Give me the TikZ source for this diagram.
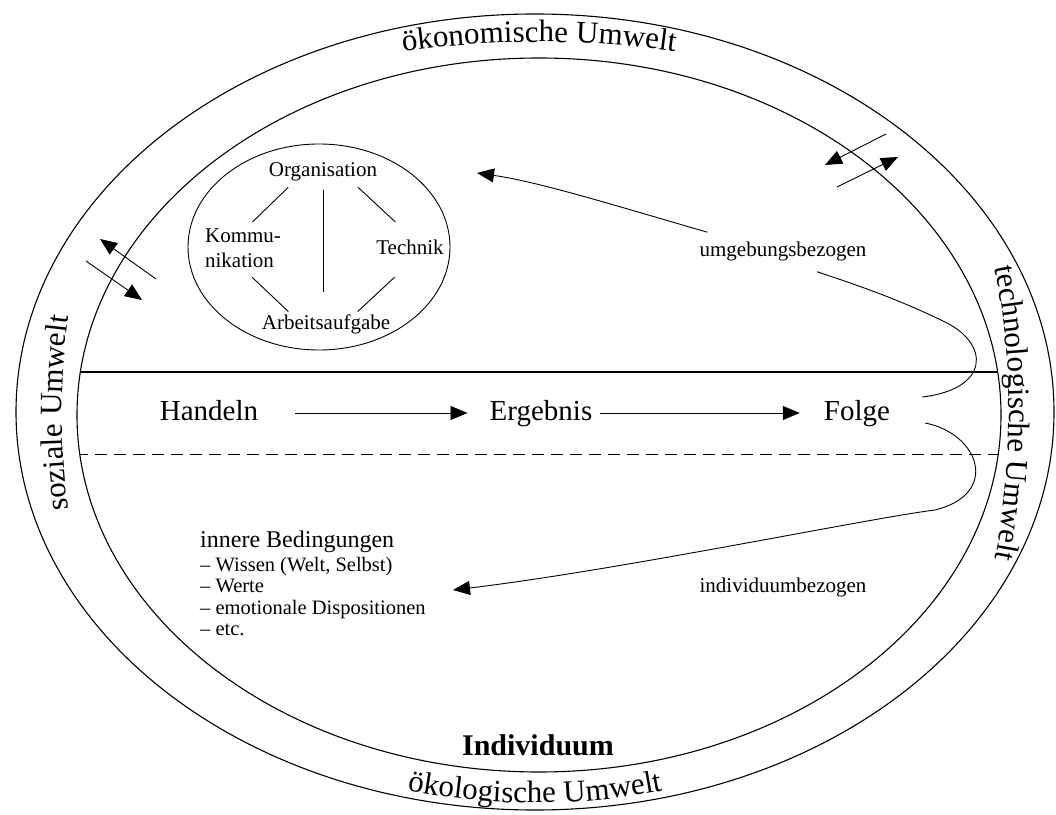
\documentclass[tikz,border=0pt]{standalone}
\usepackage{fontspec}
\setmainfont{Liberation Serif}
\usetikzlibrary{arrows.meta, decorations.text}

\newcommand{\ringfont}{\fontsize{31}{31}\selectfont}

\begin{document}
\begin{tikzpicture}[x=1pt, y=1pt,
    lbl/.style={font=\fontsize{21}{25}\selectfont, inner sep=0pt},
    rowlbl/.style={font=\fontsize{29}{34}\selectfont, inner sep=0pt, text height=21pt, text depth=5pt},
    arr/.style={-{Triangle[length=17pt, width=14pt]}, line width=0.9pt},
    link/.style={line width=0.9pt},
    ring/.style={decorate, decoration={text along path, text align=center, text={|\ringfont|#1}}}]
    \useasboundingbox (0,0) rectangle (1056,814);

    % outer and inner ellipse
    \draw[line width=1.1pt] (535,402) ellipse [x radius=519, y radius=398];
    \draw[line width=1.1pt] (539,399) ellipse [x radius=462, y radius=357];

    % the four environments
    \path[ring={ökonomische Umwelt}] ([shift={(539,401)}]120:600 and 371) arc[start angle=120, end angle=60, x radius=600, y radius=371];
    \path[ring={soziale Umwelt}] ([shift={(539,401)}]200:477 and 600) arc[start angle=200, end angle=160, x radius=477, y radius=600];
    \path[ring={technologische Umwelt}] ([shift={(539,401)}]25:470 and 600) arc[start angle=25, end angle=-25, x radius=470, y radius=600];
    \path[ring={ökologische Umwelt}] ([shift={(535,402)}]250:510 and 391) arc[start angle=250, end angle=290, x radius=510, y radius=391];

    % exchange with the environment
    \draw[arr] (886,680) -- (825,649);
    \draw[arr] (837,627) -- (898,657);
    \draw[arr] (156,535) -- (100,575);
    \draw[arr] (86,553) -- (142,514);

    % solid and dashed divider
    \begin{scope}
        \clip (539,399) ellipse [x radius=462, y radius=357];
        \draw[line width=2pt] (0,442) -- (1056,442);
        \draw[line width=0.9pt, dash pattern=on 12pt off 7pt] (0,360) -- (1056,360);
    \end{scope}

    % work system
    \draw[line width=0.9pt] (319,567) ellipse [x radius=131, y radius=103];
    \node[lbl, anchor=base] (org) at (323,637) {Organisation};
    \node[lbl, align=left] (komm) at (243,566) {Kommu-\\nikation};
    \node[lbl, anchor=base] (tech) at (410,559) {Technik};
    \node[lbl, anchor=base] (arb) at (326,484) {Arbeitsaufgabe};
    \draw[link, shorten <=8pt, shorten >=9pt] ([xshift=-29pt]org.south) -- ([xshift=3pt]komm.north);
    \draw[link, shorten <=8pt, shorten >=27pt] ([xshift=29pt]org.south) -- ([xshift=5pt]tech.north);
    \draw[link, shorten <=8pt, shorten >=23pt] (org.south) -- ([xshift=-3pt]arb.north);
    \draw[link, shorten <=14pt, shorten >=5pt] ([xshift=-1pt]komm.south) -- ([xshift=-34pt]arb.north);
    \draw[link, shorten <=32pt, shorten >=5pt] ([xshift=8pt]tech.south) -- ([xshift=28pt]arb.north);

    % action chain
    \node[rowlbl, anchor=base] (handeln) at (209,393) {Handeln};
    \node[rowlbl, anchor=base] (ergebnis) at (541,393) {Ergebnis};
    \node[rowlbl, anchor=base] (folge) at (857,393) {Folge};
    \draw[arr, shorten <=37pt, shorten >=22pt] (handeln) -- (ergebnis);
    \draw[arr, shorten <=8pt, shorten >=24pt] (ergebnis) -- (folge);

    % feedback
    \node[lbl, anchor=base] (umg) at (783,557) {umgebungsbezogen};
    \node[lbl, anchor=base] (indiv) at (783,222) {individuumbezogen};
    \coordinate (umgtip) at (477,641);
    \coordinate (indivtip) at (453,224);
    \draw[link] ([shift={(32,16)}]folge.east) .. controls (990,425) and (990,470) .. (945,492)
        .. controls (900,514) and (860,528) .. ([shift={(34,-10)}]umg.south);
    \draw[arr] ([shift={(8,10)}]umg.north west) .. controls (620,607) and (540,632) .. (umgtip);
    \draw[arr] ([shift={(35,-10)}]folge.east) .. controls (980,380) and (1000,320) .. (935,304)
        .. controls (870,296) and (620,244) .. (indivtip);

    % inner conditions
    \node[font=\fontsize{24}{28}\selectfont, anchor=base west, inner sep=0pt] (innere) at (200,267) {innere Bedingungen};
    \node[font=\fontsize{20.5}{21.5}\selectfont, anchor=north west, align=left, inner sep=0pt] (liste) at (200,257)
        {– Wissen (Welt, Selbst)\\– Werte\\– emotionale Dispositionen\\– etc.};

    \node[font=\fontsize{30}{30}\selectfont\bfseries, anchor=base] (individuum) at (538,59) {Individuum};
\end{tikzpicture}
\end{document}
